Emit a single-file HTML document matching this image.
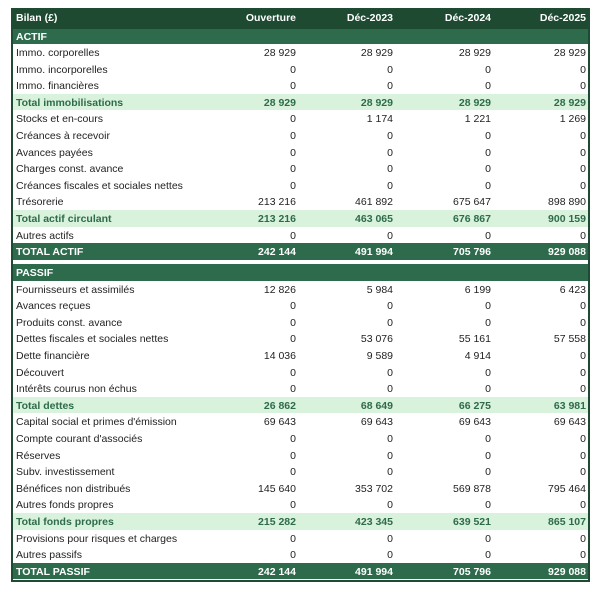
<!DOCTYPE html>
<html><head><meta charset="utf-8"><style>
body{margin:0;background:#fff;width:600px;height:589px;position:relative;font-family:"Liberation Sans",sans-serif;font-size:10.5px;color:#222}
.box{position:absolute;left:11px;top:8px;width:579px;height:574px;border-left:2px solid #1f4a33;border-right:2px solid #1f4a33;border-bottom:2px solid #1f4a33;box-sizing:border-box}
.r{position:absolute;left:13px;width:575px;height:16.6px;line-height:18px}
.r span{position:absolute;top:0}
.r .l{left:3px}
.c1{right:292px}.c2{right:195px}.c3{right:97px}.c4{right:2px}
.hd{background:#1d4a31;color:#fff;font-weight:bold}
.sec{background:#2e6b4c;color:#fff;font-weight:bold}
.tot{background:#d9f2dc;color:#2e6b4c;font-weight:bold}
.gt{background:#2e6b4c;color:#fff;font-weight:bold}
</style></head><body>
<div class="box"></div>
<div class="r hd" style="top:8px;height:21px;line-height:21px"><span class="l">Bilan (£)</span><span class="c1">Ouverture</span><span class="c2">Déc-2023</span><span class="c3">Déc-2024</span><span class="c4">Déc-2025</span></div>
<div class="r sec" style="top:29px;height:15px;line-height:16px"><span class="l">ACTIF</span></div>
<div id="a"></div>
<script>
function rows(start,data){let y=start;let h='';for(const d of data){const cls=d[0];h+=`<div class="r ${cls}" style="top:${y}px"><span class="l">${d[1]}</span>`+(d.length>2?`<span class="c1">${d[2]}</span><span class="c2">${d[3]}</span><span class="c3">${d[4]}</span><span class="c4">${d[5]}</span>`:'')+`</div>`;y+=16.6;}return h;}
const z=['0','0','0','0'];
const A=[
['','Immo. corporelles','28 929','28 929','28 929','28 929'],
['','Immo. incorporelles',...z],
['','Immo. financières',...z],
['tot','Total immobilisations','28 929','28 929','28 929','28 929'],
['','Stocks et en-cours','0','1 174','1 221','1 269'],
['','Créances à recevoir',...z],
['','Avances payées',...z],
['','Charges const. avance',...z],
['','Créances fiscales et sociales nettes',...z],
['','Trésorerie','213 216','461 892','675 647','898 890'],
['tot','Total actif circulant','213 216','463 065','676 867','900 159'],
['','Autres actifs',...z],
['gt','TOTAL ACTIF','242 144','491 994','705 796','929 088']];
const P=[
['sec','PASSIF'],
['','Fournisseurs et assimilés','12 826','5 984','6 199','6 423'],
['','Avances reçues',...z],
['','Produits const. avance',...z],
['','Dettes fiscales et sociales nettes','0','53 076','55 161','57 558'],
['','Dette financière','14 036','9 589','4 914','0'],
['','Découvert',...z],
['','Intérêts courus non échus',...z],
['tot','Total dettes','26 862','68 649','66 275','63 981'],
['','Capital social et primes d\'émission','69 643','69 643','69 643','69 643'],
['','Compte courant d\'associés',...z],
['','Réserves',...z],
['','Subv. investissement',...z],
['','Bénéfices non distribués','145 640','353 702','569 878','795 464'],
['','Autres fonds propres',...z],
['tot','Total fonds propres','215 282','423 345','639 521','865 107'],
['','Provisions pour risques et charges',...z],
['','Autres passifs',...z],
['gt','TOTAL PASSIF','242 144','491 994','705 796','929 088']];
document.getElementById('a').innerHTML=rows(44,A)+rows(264,P);
</script>
</body></html>
